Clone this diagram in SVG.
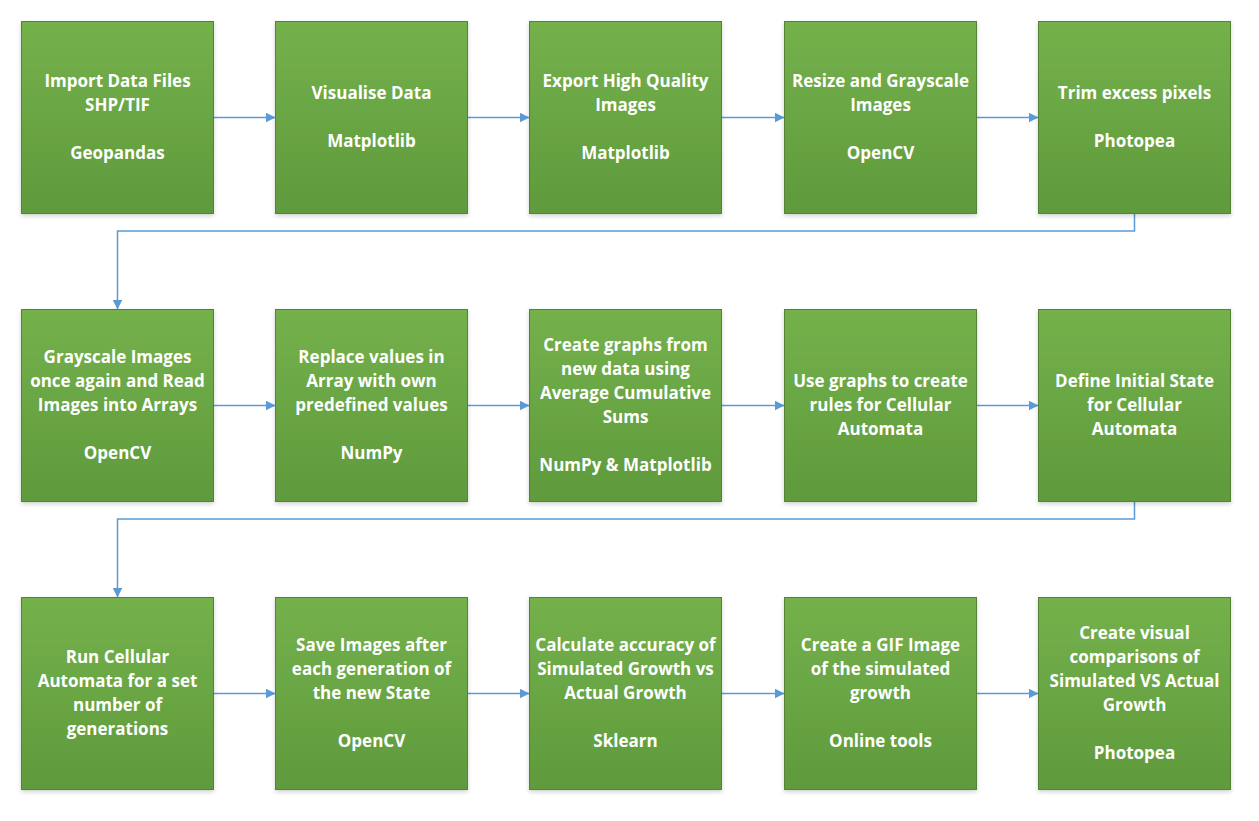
<svg xmlns="http://www.w3.org/2000/svg" width="1259" height="821" viewBox="0 0 1259 821">
<defs>
<linearGradient id="g" x1="0" y1="0" x2="0" y2="1">
<stop offset="0" stop-color="#74b14b"/>
<stop offset="1" stop-color="#5f9a3c"/>
</linearGradient>
<filter id="sh" x="-10%" y="-10%" width="120%" height="125%">
<feDropShadow dx="0" dy="2" stdDeviation="2" flood-color="#000" flood-opacity="0.18"/>
</filter>
<marker id="ah" viewBox="0 0 10 10" refX="10" refY="5" markerWidth="10" markerHeight="10" markerUnits="userSpaceOnUse" orient="auto">
<path d="M0,0 L10,5 L0,10 Z" fill="#5b9bd5"/>
</marker>
</defs>
<style>
.box{fill:url(#g);stroke:#548235;stroke-width:1;filter:url(#sh)}
.t{font-family:"Open Sans","Liberation Sans",sans-serif;font-weight:bold;font-size:17px;fill:#ffffff;text-anchor:middle}
.c{fill:none;stroke:#5b9bd5;stroke-width:1.5;marker-end:url(#ah)}
</style>
<rect width="1259" height="821" fill="#ffffff"/>
<g id="connectors">
<line class="c" x1="213.5" y1="117.5" x2="275.5" y2="117.5"/>
<line class="c" x1="467.5" y1="117.5" x2="529.5" y2="117.5"/>
<line class="c" x1="721.5" y1="117.5" x2="784.5" y2="117.5"/>
<line class="c" x1="976.5" y1="117.5" x2="1038.5" y2="117.5"/>
<polyline class="c" points="1134.5,213.5 1134.5,231 117.5,231 117.5,309.5"/>
<line class="c" x1="213.5" y1="405.5" x2="275.5" y2="405.5"/>
<line class="c" x1="467.5" y1="405.5" x2="529.5" y2="405.5"/>
<line class="c" x1="721.5" y1="405.5" x2="784.5" y2="405.5"/>
<line class="c" x1="976.5" y1="405.5" x2="1038.5" y2="405.5"/>
<polyline class="c" points="1134.5,501.5 1134.5,519 117.5,519 117.5,597.5"/>
<line class="c" x1="213.5" y1="693.5" x2="275.5" y2="693.5"/>
<line class="c" x1="467.5" y1="693.5" x2="529.5" y2="693.5"/>
<line class="c" x1="721.5" y1="693.5" x2="784.5" y2="693.5"/>
<line class="c" x1="976.5" y1="693.5" x2="1038.5" y2="693.5"/>
</g>
<g id="n1"><rect class="box" x="21.5" y="21.5" width="192" height="192"/>
<text class="t"><tspan x="117.5" y="87">Import Data Files</tspan><tspan x="117.5" y="111">SHP/TIF</tspan><tspan x="117.5" y="159">Geopandas</tspan></text></g>
<g id="n2"><rect class="box" x="275.5" y="21.5" width="192" height="192"/>
<text class="t"><tspan x="371.5" y="99">Visualise Data</tspan><tspan x="371.5" y="147">Matplotlib</tspan></text></g>
<g id="n3"><rect class="box" x="529.5" y="21.5" width="192" height="192"/>
<text class="t"><tspan x="625.5" y="87">Export High Quality</tspan><tspan x="625.5" y="111">Images</tspan><tspan x="625.5" y="159">Matplotlib</tspan></text></g>
<g id="n4"><rect class="box" x="784.5" y="21.5" width="192" height="192"/>
<text class="t"><tspan x="880.5" y="87">Resize and Grayscale</tspan><tspan x="880.5" y="111">Images</tspan><tspan x="880.5" y="159">OpenCV</tspan></text></g>
<g id="n5"><rect class="box" x="1038.5" y="21.5" width="192" height="192"/>
<text class="t"><tspan x="1134.5" y="99">Trim excess pixels</tspan><tspan x="1134.5" y="147">Photopea</tspan></text></g>
<g id="n6"><rect class="box" x="21.5" y="309.5" width="192" height="192"/>
<text class="t"><tspan x="117.5" y="363">Grayscale Images</tspan><tspan x="117.5" y="387">once again and Read</tspan><tspan x="117.5" y="411">Images into Arrays</tspan><tspan x="117.5" y="459">OpenCV</tspan></text></g>
<g id="n7"><rect class="box" x="275.5" y="309.5" width="192" height="192"/>
<text class="t"><tspan x="371.5" y="363">Replace values in</tspan><tspan x="371.5" y="387">Array with own</tspan><tspan x="371.5" y="411">predefined values</tspan><tspan x="371.5" y="459">NumPy</tspan></text></g>
<g id="n8"><rect class="box" x="529.5" y="309.5" width="192" height="192"/>
<text class="t"><tspan x="625.5" y="351">Create graphs from</tspan><tspan x="625.5" y="375">new data using</tspan><tspan x="625.5" y="399">Average Cumulative</tspan><tspan x="625.5" y="423">Sums</tspan><tspan x="625.5" y="471">NumPy &amp; Matplotlib</tspan></text></g>
<g id="n9"><rect class="box" x="784.5" y="309.5" width="192" height="192"/>
<text class="t"><tspan x="880.5" y="387">Use graphs to create</tspan><tspan x="880.5" y="411">rules for Cellular</tspan><tspan x="880.5" y="435">Automata</tspan></text></g>
<g id="n10"><rect class="box" x="1038.5" y="309.5" width="192" height="192"/>
<text class="t"><tspan x="1134.5" y="387">Define Initial State</tspan><tspan x="1134.5" y="411">for Cellular</tspan><tspan x="1134.5" y="435">Automata</tspan></text></g>
<g id="n11"><rect class="box" x="21.5" y="597.5" width="192" height="192"/>
<text class="t"><tspan x="117.5" y="663">Run Cellular</tspan><tspan x="117.5" y="687">Automata for a set</tspan><tspan x="117.5" y="711">number of</tspan><tspan x="117.5" y="735">generations</tspan></text></g>
<g id="n12"><rect class="box" x="275.5" y="597.5" width="192" height="192"/>
<text class="t"><tspan x="371.5" y="651">Save Images after</tspan><tspan x="371.5" y="675">each generation of</tspan><tspan x="371.5" y="699">the new State</tspan><tspan x="371.5" y="747">OpenCV</tspan></text></g>
<g id="n13"><rect class="box" x="529.5" y="597.5" width="192" height="192"/>
<text class="t"><tspan x="625.5" y="651">Calculate accuracy of</tspan><tspan x="625.5" y="675">Simulated Growth vs</tspan><tspan x="625.5" y="699">Actual Growth</tspan><tspan x="625.5" y="747">Sklearn</tspan></text></g>
<g id="n14"><rect class="box" x="784.5" y="597.5" width="192" height="192"/>
<text class="t"><tspan x="880.5" y="651">Create a GIF Image</tspan><tspan x="880.5" y="675">of the simulated</tspan><tspan x="880.5" y="699">growth</tspan><tspan x="880.5" y="747">Online tools</tspan></text></g>
<g id="n15"><rect class="box" x="1038.5" y="597.5" width="192" height="192"/>
<text class="t"><tspan x="1134.5" y="639">Create visual</tspan><tspan x="1134.5" y="663">comparisons of</tspan><tspan x="1134.5" y="687">Simulated VS Actual</tspan><tspan x="1134.5" y="711">Growth</tspan><tspan x="1134.5" y="759">Photopea</tspan></text></g>
</svg>
